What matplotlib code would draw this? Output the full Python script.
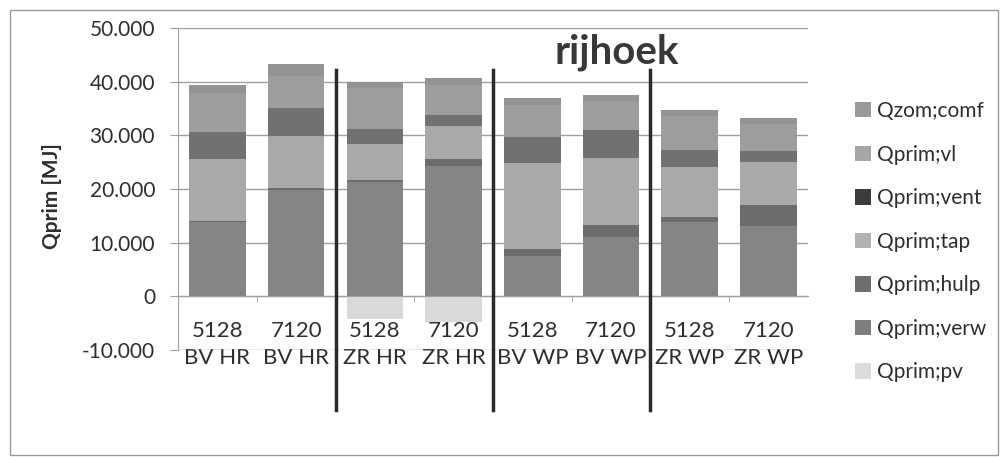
import matplotlib.pyplot as plt
import numpy as np
from matplotlib.patches import Patch, Rectangle

plt.rcParams['font.family'] = ['Lato', 'DejaVu Sans']

# categories (two lines per label)
codes = ["5128", "7120", "5128", "7120", "5128", "7120", "5128", "7120"]
groups = ["BV HR", "BV HR", "ZR HR", "ZR HR", "BV WP", "BV WP", "ZR WP", "ZR WP"]

# series values [MJ], stacked bottom -> top
q_verw = [13800, 19900, 21300, 24300, 7500, 11100, 13800, 13100]
q_hulp = [300, 300, 300, 1300, 1300, 2200, 1000, 4000]
q_tap = [11500, 9600, 6800, 6100, 16000, 12500, 9300, 7900]
q_vent = [5000, 5200, 2700, 2100, 4800, 5200, 3100, 2000]
q_vl = [7200, 6000, 7700, 5600, 6100, 5300, 6300, 5100]
q_zom = [1600, 2300, 1200, 1200, 1200, 1200, 1200, 1200]
q_pv = [0, 0, -4300, -4700, 0, 0, 0, 0]

series = [
    ("Qprim;verw", q_verw, "#858585"),
    ("Qprim;hulp", q_hulp, "#6c6c6c"),
    ("Qprim;tap", q_tap, "#a9a9a9"),
    ("Qprim;vent", q_vent, "#717171"),
    ("Qprim;vl", q_vl, "#9d9d9d"),
    ("Qzom;comf", q_zom, "#939393"),
]
# legend swatch colours as they appear in the legend
legend_items = [
    ("Qzom;comf", "#9a9a9a"),
    ("Qprim;vl", "#a6a6a6"),
    ("Qprim;vent", "#3c3c3c"),
    ("Qprim;tap", "#b2b2b2"),
    ("Qprim;hulp", "#6e6e6e"),
    ("Qprim;verw", "#7e7e7e"),
    ("Qprim;pv", "#dcdcdc"),
]

txt = "#2e2e2e"

fig = plt.figure(figsize=(10.06, 4.57), dpi=100)
ax = fig.add_axes([0.177, 0.234, 0.626, 0.705])

x = np.arange(len(codes))
w = 0.72
bottom = np.zeros(len(codes))
for name, vals, col in series:
    ax.bar(x, vals, w, bottom=bottom, color=col, zorder=3)
    bottom += np.array(vals)
ax.bar(x, q_pv, w, color="#d9d9d9", zorder=3)

ax.set_xlim(-0.5, len(codes) - 0.5)
ax.set_ylim(-10000, 50000)
yt = np.arange(-10000, 50001, 10000)
ax.set_yticks(yt)
ax.set_yticklabels([f"{v/1000:.3f}" if v != 0 else "0" for v in yt])
ax.yaxis.grid(True, color="#a0a0a0", linewidth=1, zorder=0)

for s in ["top", "right"]:
    ax.spines[s].set_visible(False)
ax.spines["left"].set_color("#a0a0a0")
ax.spines["bottom"].set_position(("data", 0))
ax.spines["bottom"].set_color("#a0a0a0")
ax.spines["bottom"].set_zorder(4)

ax.set_xticks(x)
ax.set_xticklabels([f"{c}\n{g}" for c, g in zip(codes, groups)], linespacing=1.42)
ax.set_xticks(np.arange(0.5, len(codes) - 0.5, 1), minor=True)
ax.tick_params(axis="x", which="major", length=0, pad=18, labelsize=16, colors=txt)
ax.tick_params(axis="x", which="minor", length=4, color="#a0a0a0", direction="out")
ax.tick_params(axis="y", length=6, color="#a0a0a0", labelsize=15, colors=txt, pad=10.5)

ax.set_ylabel("Qprim [MJ]", fontsize=15, fontweight="bold", color=txt)
ax.yaxis.set_label_coords(-0.185, 0.478)

# group separators
for xs in [1.5, 3.5, 5.5]:
    ax.plot([xs, xs], [42200, -21200], color="#2a2a2a", linewidth=2.5, clip_on=False, zorder=5)

ax.text(0.697, 0.925, "rijhoek", transform=ax.transAxes, ha="center", va="center",
        fontsize=29, fontweight="bold", color="#383838")

handles = [Patch(facecolor=c, edgecolor="none", label=n) for n, c in legend_items]
fig.legend(handles=handles, loc="upper left", bbox_to_anchor=(0.842, 0.797), frameon=False,
           fontsize=15, labelspacing=1.13, handlelength=0.75, handleheight=0.75,
           handletextpad=0.3, labelcolor=txt, borderaxespad=0)

fig.patches.append(Rectangle((0.01, 0.005), 0.982, 0.973, transform=fig.transFigure,
                             fill=False, edgecolor="#9a9a9a", linewidth=1))

fig.savefig("out.png", dpi=100)
